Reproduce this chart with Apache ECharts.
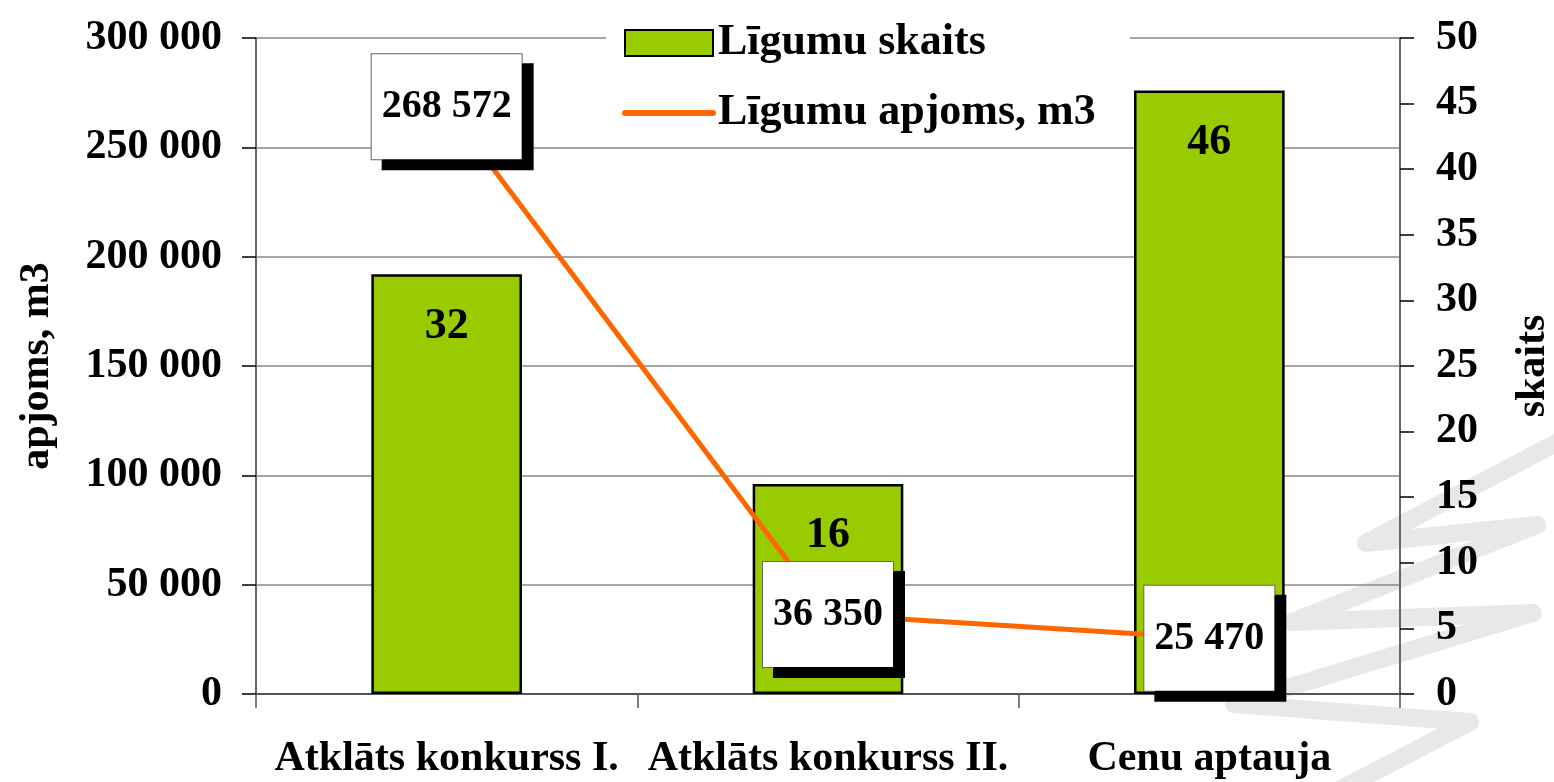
<!DOCTYPE html>
<html>
<head>
<meta charset="utf-8">
<script src="https://cdn.jsdelivr.net/npm/echarts@6/dist/echarts.min.js"></script>
<style>
html,body{margin:0;padding:0;background:#fff;}
#c{width:1554px;height:782px;}
</style>
</head>
<body>
<div id="c"></div>
<script>
const categories = ['Atklāts konkurss I.', 'Atklāts konkurss II.', 'Cenu aptauja'];
const contractCount = [32, 16, 46];          // Līgumu skaits (right axis)
const contractVolume = [268572, 36350, 25470]; // Līgumu apjoms, m3 (left axis)
const seriesNames = ['Līgumu skaits', 'Līgumu apjoms, m3'];
const leftAxisName = 'apjoms, m3';
const rightAxisName = 'skaits';

const FONT = 'Liberation Serif';
const fmt = v => String(Math.round(v)).replace(/\B(?=(\d{3})+(?!\d))/g, ' ');

const chart = echarts.init(document.getElementById('c'), null, {renderer: 'canvas'});
chart.setOption({
  backgroundColor: '#ffffff',
  animation: false,
  textStyle: {fontFamily: FONT},
  graphic: [{
    type: 'polyline',
    z: -10,
    silent: true,
    shape: {points: [[1600, 420], [1366, 543], [1537, 525], [1292, 622], [1533, 613], [1234, 704], [1470, 722], [1320, 800]]},
    style: {stroke: '#e8e8e8', lineWidth: 18, fill: null, lineJoin: 'round', lineCap: 'round'}
  }],
  grid: {left: 256, right: 154, top: 38, bottom: 88, containLabel: false, outerBoundsMode: 'none'},
  legend: {
    orient: 'vertical',
    left: 606,
    top: 10,
    padding: [10, 34, 10, 16],
    backgroundColor: '#ffffff',
    itemWidth: 88,
    itemHeight: 26,
    itemGap: 24,
    itemTextGap: 15,
    textStyle: {fontFamily: FONT, fontSize: 44, fontWeight: 'bold', color: '#000', lineHeight: 46},
    lineStyle: {width: 6, cap: 'round'},
    data: [
      {name: seriesNames[0], icon: 'rect'},
      {name: seriesNames[1], itemStyle: {opacity: 0}, lineStyle: {width: 6, cap: 'round', color: '#ff6600'}}
    ]
  },
  xAxis: {
    type: 'category',
    data: categories,
    axisLine: {lineStyle: {color: '#555', width: 2}},
    axisTick: {show: true, length: 14, alignWithLabel: false, lineStyle: {color: '#555', width: 1.5}},
    axisLabel: {fontFamily: FONT, fontSize: 42, fontWeight: 'bold', color: '#000', margin: 44, interval: 0}
  },
  yAxis: [
    {
      type: 'value',
      min: 0, max: 300000, interval: 50000,
      position: 'left',
      name: leftAxisName,
      nameLocation: 'middle',
      nameRotate: 90,
      nameGap: 198,
      nameTextStyle: {fontFamily: FONT, fontSize: 42, fontWeight: 'bold', color: '#000'},
      axisLine: {show: true, lineStyle: {color: '#666', width: 2}},
      axisTick: {show: true, length: 14, lineStyle: {color: '#000', width: 1.5}},
      axisLabel: {fontFamily: FONT, fontSize: 42, fontWeight: 'bold', color: '#000', margin: 34, formatter: fmt},
      splitLine: {show: true, lineStyle: {color: '#888', width: 1.5}}
    },
    {
      type: 'value',
      min: 0, max: 50, interval: 5,
      position: 'right',
      name: rightAxisName,
      nameLocation: 'middle',
      nameRotate: 90,
      nameGap: 112,
      nameTextStyle: {fontFamily: FONT, fontSize: 42, fontWeight: 'bold', color: '#000'},
      axisLine: {show: true, lineStyle: {color: '#666', width: 2}},
      axisTick: {show: true, length: 14, lineStyle: {color: '#000', width: 1.5}},
      axisLabel: {fontFamily: FONT, fontSize: 42, fontWeight: 'bold', color: '#000', margin: 36},
      splitLine: {show: false}
    }
  ],
  series: [
    {
      name: seriesNames[0],
      type: 'bar',
      yAxisIndex: 1,
      data: contractCount,
      barWidth: '39.5%',
      itemStyle: {color: '#99cc00', borderColor: '#000', borderWidth: 2.5},
      label: {
        show: true,
        position: 'insideTop',
        distance: 30,
        fontFamily: FONT, fontSize: 44, fontWeight: 'bold', color: '#000'
      },
      z: 2
    },
    {
      name: seriesNames[1],
      type: 'line',
      yAxisIndex: 0,
      data: contractVolume,
      symbol: 'circle',
      symbolSize: 1,
      showSymbol: true,
      itemStyle: {color: '#ff6600'},
      lineStyle: {color: '#ff6600', width: 5},
      label: {
        show: true,
        position: 'inside',
        formatter: p => fmt(p.value),
        fontFamily: FONT, fontSize: 40, fontWeight: 'bold', color: '#000',
        backgroundColor: '#ffffff',
        borderColor: '#666', borderWidth: 1,
        padding: [25, 10, 40, 10],
        lineHeight: 40,
        shadowColor: '#000', shadowBlur: 0, shadowOffsetX: 11, shadowOffsetY: 10
      },
      z: 3
    }
  ]
});
</script>
</body>
</html>
